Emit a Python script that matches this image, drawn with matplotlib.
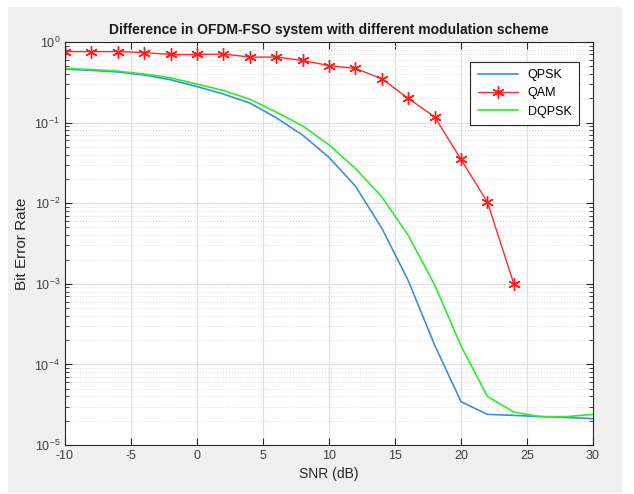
import matplotlib
matplotlib.use('Agg')
import matplotlib.pyplot as plt
import numpy as np
from matplotlib.patches import Rectangle
from matplotlib.ticker import MultipleLocator, LogLocator, NullFormatter

plt.rcParams['font.family'] = ['Liberation Sans', 'DejaVu Sans']
plt.rcParams['axes.unicode_minus'] = False

snr = np.arange(-10, 31, 2)
snr_qam = np.arange(-10, 25, 2)

ber_qpsk = [0.46, 0.445, 0.425, 0.39, 0.34, 0.28, 0.226, 0.175, 0.115, 0.070,
            0.037, 0.0163, 0.0049, 0.0011, 1.74e-4, 3.45e-5, 2.4e-5, 2.33e-5,
            2.25e-5, 2.2e-5, 2.12e-5]
ber_dqpsk = [0.47, 0.455, 0.435, 0.40, 0.36, 0.30, 0.25, 0.195, 0.135, 0.091,
             0.053, 0.027, 0.012, 0.0040, 9.7e-4, 1.7e-4, 4.0e-5, 2.56e-5,
             2.25e-5, 2.25e-5, 2.4e-5]
ber_qam = [0.76, 0.76, 0.76, 0.74, 0.70, 0.70, 0.71, 0.65, 0.65, 0.59,
           0.51, 0.47, 0.35, 0.20, 0.118, 0.035, 0.0103, 0.001]

fig = plt.figure(figsize=(6.34, 4.94), dpi=100)
fig.patch.set_facecolor('white')
fig.patches.append(Rectangle((8 / 634, 1 / 494), 614 / 634, 486 / 494,
                             transform=fig.transFigure, facecolor='#f0f0f0',
                             edgecolor='none', zorder=-10))

ax = fig.add_axes([65 / 634, 1 - 445 / 494, 528 / 634, 403 / 494])
ax.set_facecolor('white')

ax.semilogy(snr, ber_qpsk, color='#3d8fd8', lw=1.2, label='QPSK')
ax.semilogy(snr_qam, ber_qam, color='#ff2a2a', lw=1.0, marker=(6, 2, 0),
            markersize=9, markeredgewidth=1.0, markeredgecolor='#ff1a1a',
            label='QAM')
ax.semilogy(snr, ber_dqpsk, color='#2aee2a', lw=1.2, label='DQPSK')

ax.set_xlim(-10, 30)
ax.set_ylim(1e-5, 1)
ax.xaxis.set_major_locator(MultipleLocator(5))
ax.yaxis.set_major_locator(LogLocator(base=10, numticks=10))
ax.yaxis.set_minor_locator(LogLocator(base=10, subs=np.arange(2, 10), numticks=10))
ax.yaxis.set_minor_formatter(NullFormatter())

ax.grid(True, which='major', color='#e0e0e0', lw=0.8, linestyle='-')
ax.grid(True, which='minor', axis='y', color='#d8d8d8', lw=0.7, linestyle=(0, (1, 2)))
ax.set_axisbelow(True)

ax.tick_params(which='both', direction='in', top=True, right=True,
               labelsize=9, labelcolor='#404040', color='#262626')
ax.tick_params(which='major', length=5)
ax.tick_params(which='minor', length=3)
for s in ax.spines.values():
    s.set_color('#262626')
    s.set_linewidth(0.8)

ax.set_title('Difference in OFDM-FSO system with different modulation scheme',
             fontsize=10, fontweight='bold', color='#1a1a1a', pad=6)
ax.set_xlabel('SNR (dB)', fontsize=10, color='#262626', labelpad=4)
ax.set_ylabel('Bit Error Rate', fontsize=11, color='#262626', labelpad=4)

leg = ax.legend(loc='upper right', fontsize=9, fancybox=False, framealpha=1,
                edgecolor='#262626', handlelength=3.2, borderpad=0.6,
                bbox_to_anchor=(0.985, 0.967))
leg.get_frame().set_linewidth(0.8)

fig.savefig('out.png', dpi=100, facecolor='white')
